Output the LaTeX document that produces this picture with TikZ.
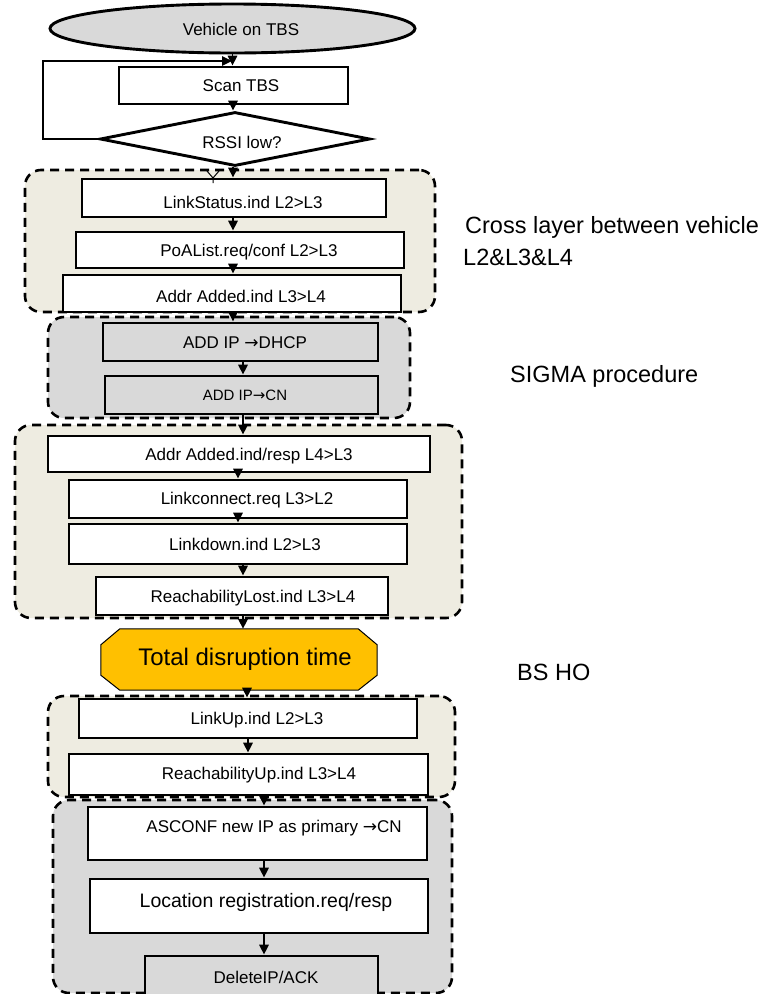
\documentclass[tikz,border=0pt]{standalone}
\usepackage{fontspec}
\setmainfont{Liberation Sans}
\newfontfamily\arrowfont{DejaVu Sans}
\newcommand\rarr{{\arrowfont →}}
\usetikzlibrary{shapes.geometric,arrows.meta}
\definecolor{beige}{HTML}{EEECE1}
\definecolor{lgray}{HTML}{D9D9D9}
\definecolor{gold}{HTML}{FFC000}
% box: name, x1, y1, x2, y2, extra style, text x, text y, text
\newcommand\mkbox[9]{%
  \node[box,#6,minimum width={#4-#2},minimum height={#5-#3}] (#1) at ({(#2+#4)/2},{(#3+#5)/2}) {};
  \node[txt] (#1t) at (#7,#8) {#9};}
\newcommand\mkgrp[6]{%
  \node[grp,fill=#6,minimum width={#4-#2},minimum height={#5-#3}] (#1) at ({(#2+#4)/2},{(#3+#5)/2}) {};}
\newcommand\arrx[3]{\draw[arr] (#1.south -| #3,0) -- (#2.north -| #3,0);}
\begin{document}
\begin{tikzpicture}[x=1pt,y=-1pt,
  box/.style={draw,rectangle,line width=2.9pt,fill=white,inner sep=0pt},
  grp/.style={draw,rectangle,line width=2.6pt,dash pattern=on 9pt off 6pt,rounded corners=16pt,inner sep=0pt},
  arr/.style={-{Triangle[length=10pt,width=9.5pt]},line width=1.7pt},
  txt/.style={inner sep=0pt,font=\fontsize{17}{20}\selectfont},
  side/.style={inner sep=0pt,anchor=base west,font=\fontsize{23.5}{28}\selectfont}]
\useasboundingbox (0,0) rectangle (768,994);
\clip (0,0) rectangle (768,994);
% groups
\mkgrp{g1}{25}{170}{435}{312}{beige}
\mkgrp{g2}{48}{317}{410}{418}{lgray}
\mkgrp{g3}{15}{425}{462}{618}{beige}
\mkgrp{g4}{48}{696}{455}{797}{beige}
\mkgrp{g5}{53}{800}{452}{993}{lgray}
% start
\node[ellipse,draw,line width=2.9pt,fill=lgray,minimum width=365,minimum height=49,inner sep=0pt] (veh) at (232.5,28.5) {};
\node[txt] (veht) at (241,29) {Vehicle on TBS};
\mkbox{scan}{119}{67}{348}{104}{}{241}{86}{Scan TBS}
\node[diamond,draw,line width=2.9pt,fill=white,minimum width=270,minimum height=54,inner sep=0pt] (rssi) at (235,139) {};
\node[txt] (rssit) at (242,142) {RSSI low?};
% group 1
\mkbox{ls}{82}{179}{386}{217}{}{243}{202}{LinkStatus.ind L2>L3}
\mkbox{poa}{76}{232}{404}{268}{}{249}{252}{PoAList.req/conf L2>L3}
\mkbox{aa}{63}{275}{401}{312}{}{241}{296}{Addr Added.ind L3>L4}
% group 2
\mkbox{dhcp}{103}{323}{378}{361}{fill=lgray}{245}{343}{ADD IP \rarr DHCP}
\mkbox{cn}{105}{376}{378}{414}{fill=lgray}{245}{395}{\fontsize{15}{18}\selectfont ADD IP\rarr CN}
% group 3
\mkbox{aar}{48}{436}{430}{472}{}{249}{456}{Addr Added.ind/resp L4>L3}
\mkbox{lc}{69}{480}{407}{518}{}{247}{500}{Linkconnect.req L3>L2}
\mkbox{ld}{69}{524}{407}{564}{}{245}{544}{Linkdown.ind L2>L3}
\mkbox{rl}{96}{577}{388}{615}{}{253}{598}{ReachabilityLost.ind L3>L4}
% disruption
\node[minimum width=276,minimum height=61,inner sep=0pt] (hex) at (239,659.5) {};
\draw[fill=gold,line width=1pt] ([xshift=19pt]hex.north west) -- ([xshift=-19pt]hex.north east)
  -- ([yshift=-16pt]hex.north east) -- ([yshift=15pt]hex.south east)
  -- ([xshift=-19pt]hex.south east) -- ([xshift=19pt]hex.south west)
  -- ([yshift=15pt]hex.south west) -- ([yshift=-16pt]hex.north west) -- cycle;
\node[inner sep=0pt,font=\fontsize{24}{28}\selectfont] (hext) at (245,659) {Total disruption time};
% group 4
\mkbox{lu}{79}{699}{417}{738}{}{257}{720}{LinkUp.ind L2>L3}
\mkbox{ru}{69}{754}{428}{795}{}{259}{775}{ReachabilityUp.ind L3>L4}
% group 5
\mkbox{asc}{88}{807}{427}{860}{}{274}{828}{ASCONF new IP as primary \rarr CN}
\mkbox{loc}{90}{879}{428}{933}{}{266}{902}{\fontsize{19.5}{23}\selectfont Location registration.req/resp}
\mkbox{del}{145}{956}{378}{1008}{fill=lgray}{266}{977}{DeleteIP/ACK}
% connectors
\draw[arr] (veh.south) -- (veh.south |- scan.north);
\coordinate (lp) at (232,61);
\draw[arr] (rssi.west) -| (43,61) -- (lp);
\arrx{scan}{rssi}{233}
\arrx{rssi}{ls}{233}
\draw[line width=1pt] (207,171) -- (213,178) -- (219,171) (213,178) -- (213,183);
\arrx{ls}{poa}{233}
\arrx{poa}{aa}{233}
\arrx{aa}{dhcp}{233}
\arrx{dhcp}{cn}{243}
\arrx{cn}{aar}{243}
\arrx{aar}{lc}{238}
\arrx{lc}{ld}{238}
\arrx{ld}{rl}{243}
\arrx{rl}{hex}{243}
\arrx{hex}{lu}{247}
\arrx{lu}{ru}{248}
\arrx{ru}{asc}{264}
\arrx{asc}{loc}{264}
\arrx{loc}{del}{264}
% side labels
\node[side] (lab1) at (465,233) {Cross layer between vehicle};
\node[side] (lab2) at (463,265) {L2\&L3\&L4};
\node[side] (lab3) at (510,382) {SIGMA procedure};
\node[side] (lab4) at (517,680) {BS HO};
\end{tikzpicture}
\end{document}
